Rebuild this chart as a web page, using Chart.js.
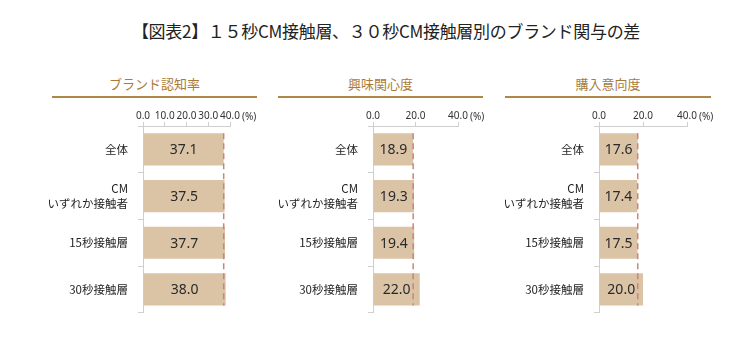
<!DOCTYPE html>
<html>
<head>
<meta charset="utf-8">
<script src="https://cdn.jsdelivr.net/npm/chart.js@4.4.1/dist/chart.umd.min.js"></script>
<style>
  html, body { margin: 0; padding: 0; background: #fff; }
  body { width: 750px; height: 345px; position: relative; overflow: hidden;
         font-family: "Noto Sans CJK JP", "Noto Sans", sans-serif; }
  #title { position: absolute; left: 0; width: 772px; top: 18px; text-align: center;
           font-size: 17px; color: #222; letter-spacing: -0.3px; }
  .head { position: absolute; top: 74px; height: 22px; border-bottom: 2px solid #ad8648;
          text-align: center; font-size: 13px; color: #a87b3a; line-height: 20px; }
  canvas { position: absolute; top: 100px; }
</style>
</head>
<body>
<div id="title">【図表2】１５秒CM接触層、３０秒CM接触層別のブランド関与の差</div>
<div class="head" style="left:52px;width:205px">ブランド認知率</div>
<div class="head" style="left:278px;width:205px">興味関心度</div>
<div class="head" style="left:505px;width:206px">購入意向度</div>
<canvas id="c1" width="265" height="230" style="left:0px"></canvas>
<canvas id="c2" width="240" height="230" style="left:265px"></canvas>
<canvas id="c3" width="245" height="230" style="left:505px"></canvas>
<script>
// カテゴリと各指標の値 (%)
const categories = ["全体", ["CM", "いずれか接触者"], "15秒接触層", "30秒接触層"];
const awareness = [37.1, 37.5, 37.7, 38.0];   // ブランド認知率
const interest = [18.9, 19.3, 19.4, 22.0];    // 興味関心度
const intent = [17.6, 17.4, 17.5, 20.0];      // 購入意向度
const axisMax = 40;
const awarenessStep = 10;
const otherStep = 20;

const BAR_COLOR = "#dbc3a6";
const REF_COLOR = "#c8867a";
const AXIS_COLOR = "#cfcfcf";

// バー内の数値ラベル + 全体値の破線 + (%) 表記
const overlayPlugin = {
  id: "overlay",
  afterDatasetsDraw(chart) {
    const { ctx, scales } = chart;
    const meta = chart.getDatasetMeta(0);
    const vals = chart.data.datasets[0].data;
    ctx.save();
    ctx.font = '14px "Noto Sans", sans-serif';
    ctx.fillStyle = "#2a2a2a";
    ctx.textAlign = "center";
    ctx.textBaseline = "middle";
    meta.data.forEach((bar, i) => {
      ctx.fillText(vals[i].toFixed(1), (bar.base + bar.x) / 2, bar.y + 1);
    });
    // 全体の値で破線
    const first = meta.data[0], last = meta.data[meta.data.length - 1];
    const x = scales.x.getPixelForValue(vals[0]);
    ctx.strokeStyle = REF_COLOR;
    ctx.lineWidth = 1.5;
    ctx.setLineDash([6, 4]);
    ctx.beginPath();
    ctx.moveTo(x, first.y - first.height / 2);
    ctx.lineTo(x, last.y + last.height / 2);
    ctx.stroke();
    ctx.setLineDash([]);
    // (%)
    ctx.font = '10px "Noto Sans", sans-serif';
    ctx.fillStyle = "#333";
    ctx.textAlign = "left";
    ctx.fillText("(%)", scales.x.right + 12, scales.x.bottom - 9);
    ctx.restore();
  },
};

function renderPanel(id, values, step, axisLeft, padRight) {
  const canvas = document.getElementById(id);
  return new Chart(canvas.getContext("2d"), {
    type: "bar",
    data: {
      labels: categories,
      datasets: [{
        data: values,
        backgroundColor: BAR_COLOR,
        categoryPercentage: 1,
        barPercentage: 0.69,
      }],
    },
    options: {
      indexAxis: "y",
      responsive: false,
      animation: false,
      layout: { padding: { left: 0, right: padRight, top: 0, bottom: 12 } },
      plugins: { legend: { display: false }, tooltip: { enabled: false } },
      scales: {
        x: {
          position: "top",
          min: 0,
          max: axisMax,
          afterFit: (s) => { s.height = 26; },
          border: { color: AXIS_COLOR },
          grid: { drawOnChartArea: false, color: AXIS_COLOR, tickLength: 4 },
          ticks: {
            stepSize: step,
            autoSkip: false,
            padding: 0,
            maxRotation: 0,
            color: "#333",
            font: { size: 10, family: '"Noto Sans", sans-serif' },
            callback: (v) => Number(v).toFixed(1),
          },
        },
        y: {
          afterFit: (s) => { s.width = axisLeft; },
          border: { color: AXIS_COLOR },
          grid: { drawOnChartArea: false, color: AXIS_COLOR, tickLength: 5 },
          ticks: {
            padding: 10,
            color: "#1f1f1f",
            font: { size: 11.5, lineHeight: 1.25, family: '"Noto Sans CJK JP", sans-serif' },
          },
        },
      },
    },
    plugins: [overlayPlugin],
  });
}

renderPanel("c1", awareness, awarenessStep, 143, 35);
renderPanel("c2", interest, otherStep, 108, 47);
renderPanel("c3", intent, otherStep, 94, 63);
</script>
</body>
</html>
